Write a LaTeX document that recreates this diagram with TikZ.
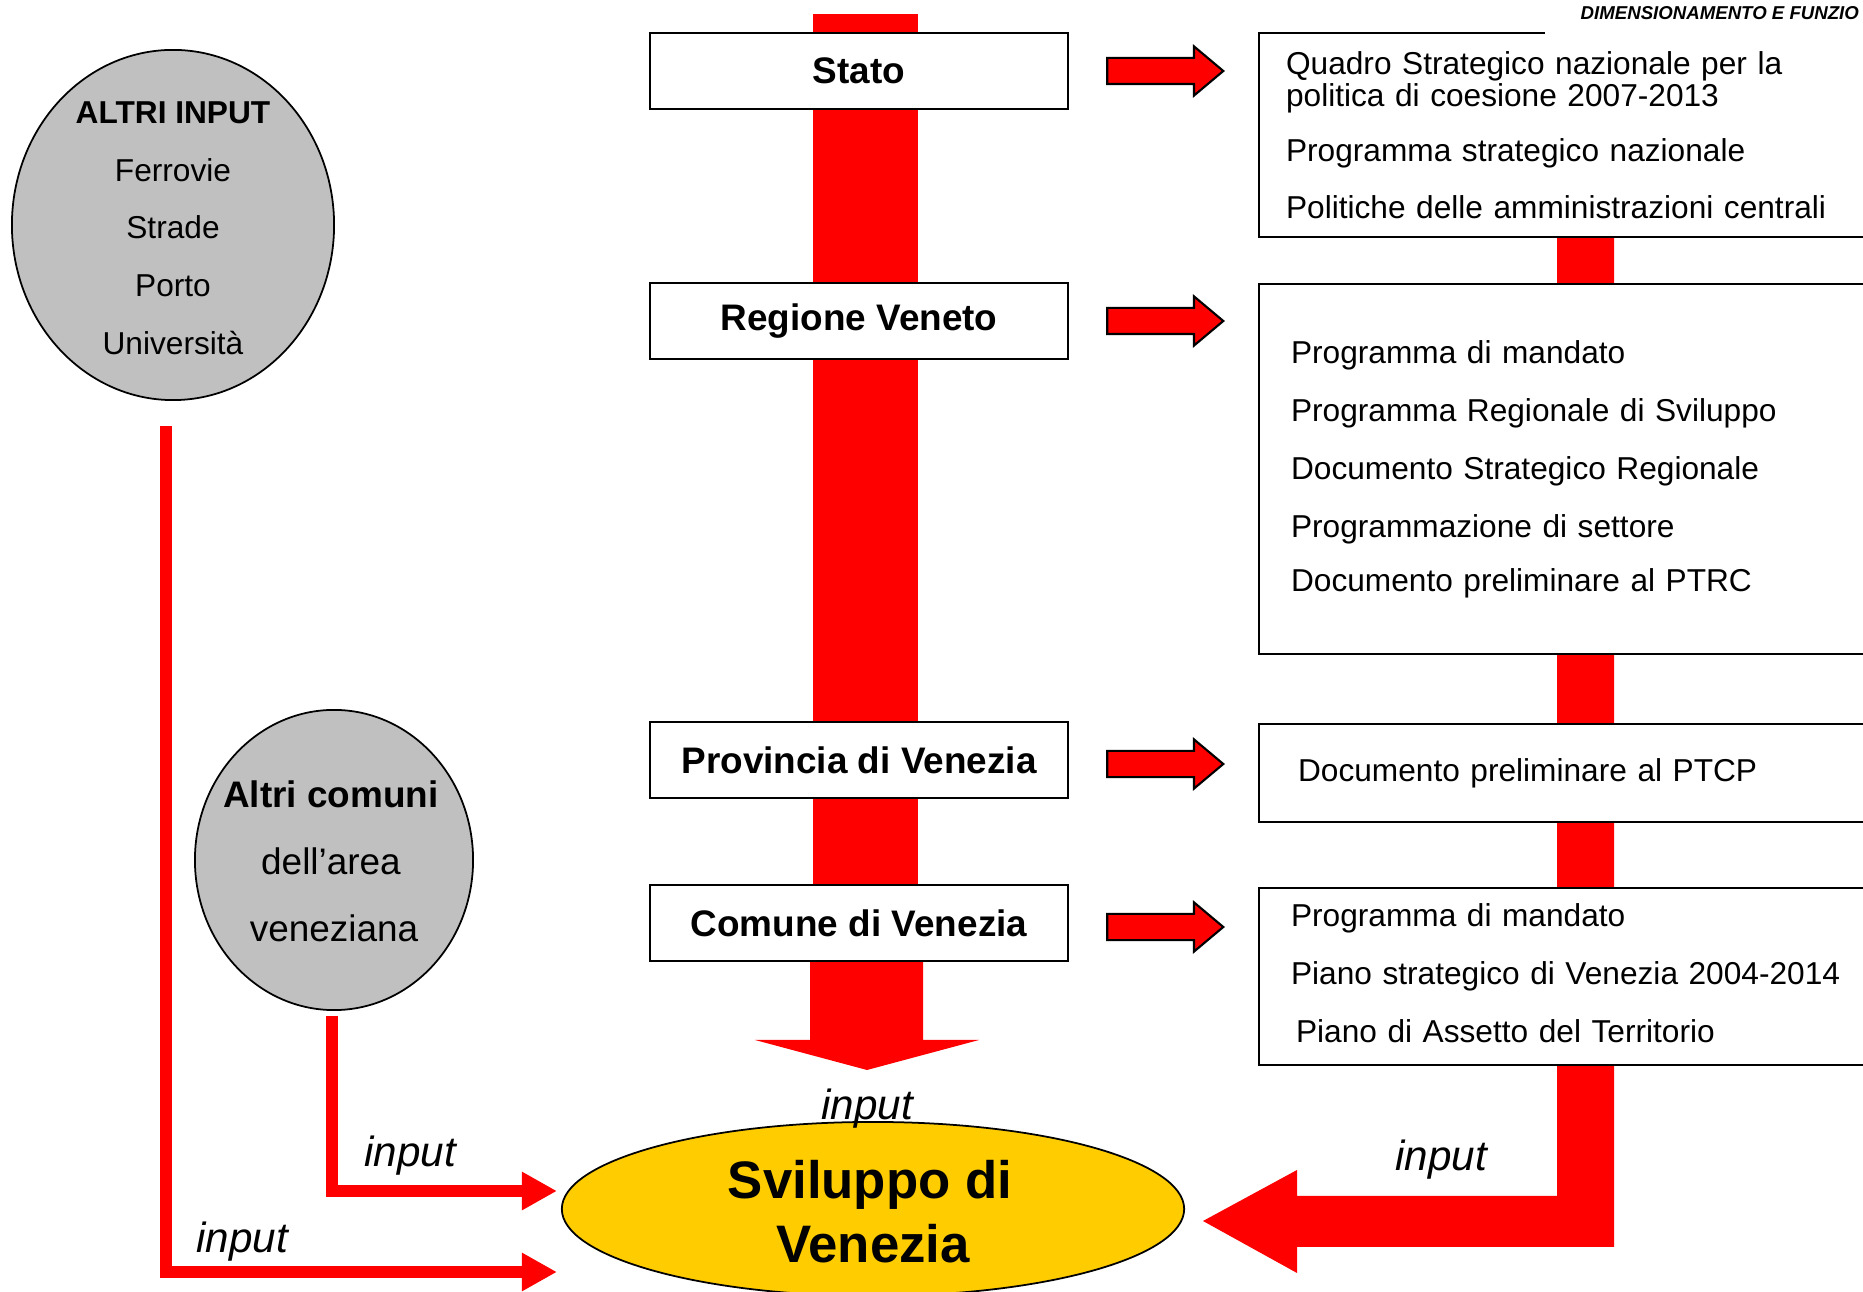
\documentclass[tikz,border=0pt]{standalone}
\usepackage{fontspec}
\setmainfont{Liberation Sans}
\usetikzlibrary{arrows.meta,positioning,shapes.geometric,shapes.arrows,calc}
\definecolor{giallo}{HTML}{FFCC00}
\definecolor{grigio}{HTML}{C0C0C0}

\begin{document}
\begin{tikzpicture}[
  x=0.01cm,y=-0.01cm,
  levelbox/.style={draw,line width=0.6pt,fill=white,minimum width=4.18cm,minimum height=0.76cm,inner sep=0pt,font=\fontsize{10.5}{12}\selectfont\bfseries},
  docbox/.style={draw,line width=0.6pt,fill=white,anchor=north west,text width=6.4cm,align=left,font=\fontsize{9}{9.0}\selectfont},
  inputcircle/.style={ellipse,draw,line width=0.5pt,fill=grigio,inner sep=0pt},
  freccia/.style={single arrow,draw,line width=0.6pt,fill=red,anchor=west,minimum height=1.16cm,minimum width=0pt,inner sep=0.12cm,single arrow head extend=0.115cm,single arrow tip angle=80},
  inputline/.style={draw=red,line width=0.12cm,-{Triangle[length=0.35cm,width=0.36cm]}},
  inlabel/.style={font=\fontsize{12}{14}\selectfont\itshape,inner sep=0pt}
]
  \clip (0,0) rectangle (1863,1292);

  % red flows behind the boxes
  \fill[red] (813,14) rectangle (918,962);
  \fill[red] (810,955) -- (923,955) -- (923,1040) -- (979,1040) -- (867,1070)
    -- (755,1040) -- (810,1040) -- cycle;
  \fill[red] (1557,236) -- (1614,236) -- (1614,1247) -- (1297,1247) -- (1297,1273)
    -- (1203,1221) -- (1297,1170) -- (1297,1196) -- (1557,1196) -- cycle;

  % levels
  \node[levelbox] (stato) at (859,71) {Stato};
  \node[levelbox] (regione) at (859,321) {Regione Veneto};
  \node[levelbox] (provincia) at (859,760) {Provincia di Venezia};
  \node[levelbox] (comune) at (859,923) {Comune di Venezia};

  % documents
  \node[docbox,minimum height=2.04cm,inner xsep=0.27cm] (quadro) at (1258,32)
    {Quadro Strategico nazionale per la\\politica di coesione 2007-2013\\[6.6pt]
     Programma strategico nazionale\\[7.3pt]
     Politiche delle amministrazioni centrali};
  \node[docbox,minimum height=3.70cm,inner xsep=0.32cm] (programmi) at (1258,283)
    {Programma di mandato\\[7.5pt]
     Programma Regionale di Sviluppo\\[7.5pt]
     Documento Strategico Regionale\\[7.5pt]
     Programmazione di settore\\[6.4pt]
     Documento preliminare al PTRC};
  \node[docbox,minimum height=0.98cm,inner xsep=0.39cm] (ptcp) at (1258,723)
    {Documento preliminare al PTCP};
  \node[docbox,minimum height=1.77cm,inner xsep=0.32cm] (piani) at (1258,887)
    {Programma di mandato\\[7.4pt]
     Piano strategico di Venezia 2004-2014\\[7.4pt]
     \hspace{0.05cm}Piano di Assetto del Territorio\rule[-0.07cm]{0pt}{0pt}};

  \node[freccia] (f1) at ($(stato.east)+(37,0)$) {};
  \node[freccia] (f2) at ($(regione.east)+(37,0)$) {};
  \node[freccia] (f3) at ($(provincia.east)+(37,4)$) {};
  \node[freccia] (f4) at ($(comune.east)+(37,4)$) {};

  % other inputs
  \node[inputcircle,minimum width=3.22cm,minimum height=3.50cm] (ai) at (173,225) {};
  \node[align=center,font=\fontsize{9}{16.4}\selectfont] (aitesto) at ($(ai.center)+(0,3)$)
    {\textbf{ALTRI INPUT}\\Ferrovie\\Strade\\Porto\\Università};
  \node[inputcircle,minimum width=2.78cm,minimum height=3.00cm] (ac) at (334,860) {};
  \node[align=center,font=\fontsize{10.5}{19}\selectfont] (actesto) at ($(ac.center)+(-3,1)$)
    {\textbf{Altri comuni}\\dell’area\\\hspace{0.06cm}veneziana};

  \node[ellipse,draw,line width=0.5pt,fill=giallo,minimum width=6.22cm,minimum height=1.74cm] (svil) at (873,1209) {};
  \node[align=center,font=\fontsize{15}{18.2}\selectfont\bfseries] (sviltesto) at (870,1212)
    {Sviluppo di\\\hspace{0.06cm}Venezia};

  \coordinate (in1) at ($(svil.west)+(-4,-18)$);
  \coordinate (in2) at ($(svil.west)+(-4,63)$);
  \draw[inputline] ($(ai.south)+(-7,25)$) |- (in2);
  \draw[inputline] ($(ac.south)+(-2,5)$) |- (in1);

  \node[inlabel] (lbl1) at (410,1156) {input};
  \node[inlabel] (lbl2) at (242,1242) {input};
  \node[inlabel] (lbl3) at (867,1109) {input};
  \node[inlabel] (lbl4) at (1441,1160) {input};

  % page header
  \fill[white] (1545,0) rectangle (1863,37);
  \node[anchor=west,inner sep=0pt,font=\fontsize{5.3}{6}\selectfont\bfseries\itshape] (testata) at (1580,13)
    {DIMENSIONAMENTO E FUNZIO};
\end{tikzpicture}
\end{document}
